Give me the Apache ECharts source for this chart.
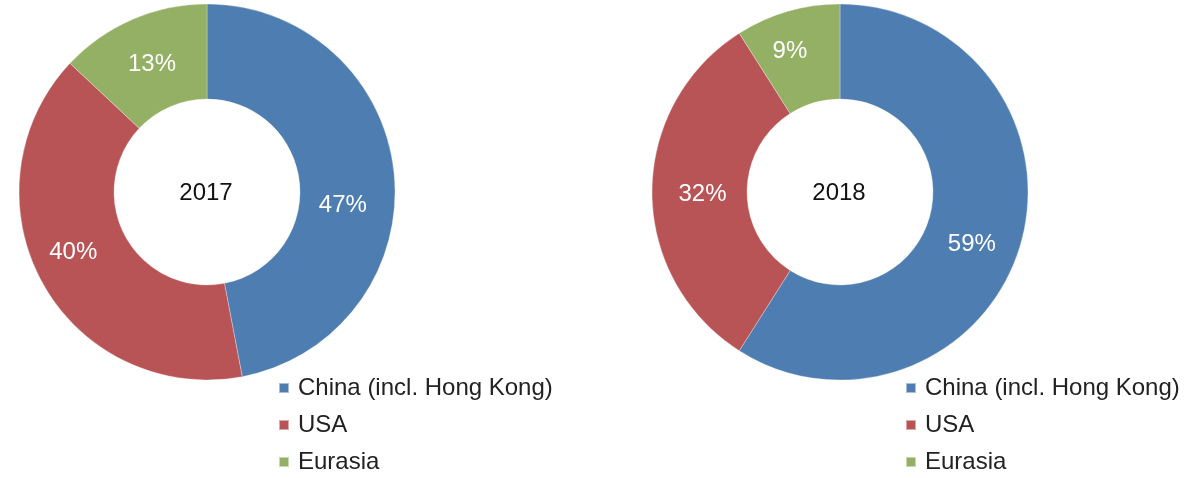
<!DOCTYPE html>
<html>
<head>
<meta charset="utf-8">
<script src="https://cdn.jsdelivr.net/npm/echarts@6/dist/echarts.min.js"></script>
<style>
html,body{margin:0;padding:0;background:#fff;}
#main{width:1186px;height:478px;}
</style>
</head>
<body>
<div id="main"></div>
<script>
// 数据
var regions = ['China (incl. Hong Kong)', 'USA', 'Eurasia'];
var years = ['2017', '2018'];
var share2017 = [47, 40, 13];
var share2018 = [59, 32, 9];
var colors = ['#4E7DB1', '#B85455', '#93B064'];

// label nudges so the percentages sit where the original put them
var nudge2017 = [[-7, 27], [-8, -9], [2, 4]];
var nudge2018 = [[-6, 12], [6, 2], [-10, -3]];

function buildData(vals, nudge){
	var out = [];
	for(var i in regions){
		out.push({name: regions[i], value: vals[i], label: {offset: nudge[i]}});
	}
	return out;
}

function pieSeries(year, vals, nudge, cx){
	return {
		name: year,
		type: 'pie',
		center: [cx, 192],
		radius: [93, 188],
		startAngle: 90,
		clockwise: true,
		silent: true,
		itemStyle: {borderColor: 'rgba(255,255,255,0.5)', borderWidth: 0.6},
		label: {
			show: true,
			position: 'inside',
			formatter: '{c}%',
			color: '#fff',
			fontSize: 24,
			fontFamily: 'Liberation Sans'
		},
		labelLine: {show: false},
		data: buildData(vals, nudge)
	};
}

var myChart = echarts.init(document.getElementById('main'));
var legendText = {fontSize: 24, color: '#222', fontFamily: 'Liberation Sans', padding: [0, 0, 0, 4]};
var titleText = {fontSize: 24, fontWeight: 'normal', color: '#111', fontFamily: 'Liberation Sans'};
var option = {
	color: colors,
	animation: false,
	title: [
		{text: years[0], left: 206, top: 193, padding: 0, textAlign: 'center', textVerticalAlign: 'middle', textStyle: titleText},
		{text: years[1], left: 839, top: 193, padding: 0, textAlign: 'center', textVerticalAlign: 'middle', textStyle: titleText}
	],
	legend: [
		{orient: 'vertical', left: 273, top: 371, height: 140, itemWidth: 10, itemHeight: 10, itemGap: 13,
		 icon: 'rect', data: regions, textStyle: legendText, selectedMode: false},
		{orient: 'vertical', left: 900, top: 371, height: 140, itemWidth: 10, itemHeight: 10, itemGap: 13,
		 icon: 'rect', data: regions, textStyle: legendText, selectedMode: false}
	],
	series: [
		pieSeries(years[0], share2017, nudge2017, 207),
		pieSeries(years[1], share2018, nudge2018, 840)
	]
};
myChart.setOption(option);
</script>
</body>
</html>
